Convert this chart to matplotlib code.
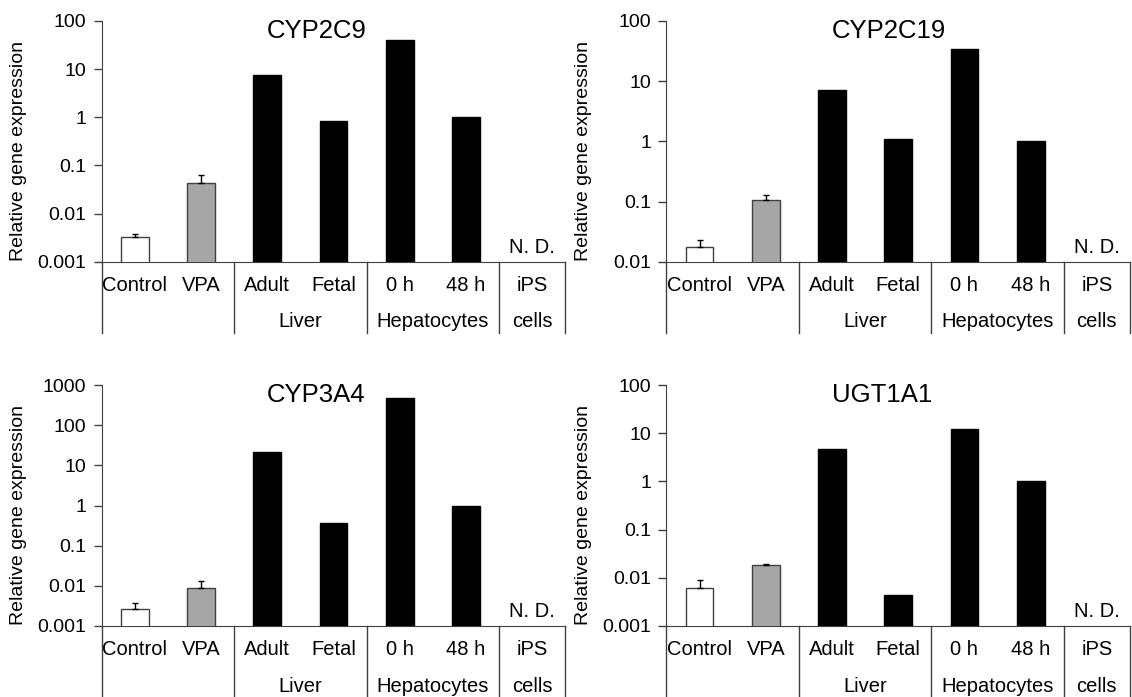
import matplotlib
matplotlib.use('Agg')
import matplotlib.pyplot as plt
import numpy as np

plt.rcParams['font.family'] = ['Liberation Sans', 'DejaVu Sans']

# категории по оси X
samples = ['Control', 'VPA', 'Adult', 'Fetal', '0 h', '48 h', 'iPS']
groups = ['', 'Liver', 'Hepatocytes', 'cells']
group_spans = [(0, 2), (2, 4), (4, 6), (6, 7)]

genes = ['CYP2C9', 'CYP2C19', 'CYP3A4', 'UGT1A1']

# значения (iPS = N. D.)
cyp2c9 = [0.0033, 0.043, 7.5, 0.84, 40, 1.0]
cyp2c19 = [0.0178, 0.104, 7.0, 1.09, 34.6, 1.0]
cyp3a4 = [0.0026, 0.0086, 21.5, 0.37, 490, 1.0]
ugt1a1 = [0.006, 0.0183, 4.7, 0.0044, 12.4, 1.0]

# верх планки погрешности для Control и VPA
cyp2c9_err = [0.0038, 0.062]
cyp2c19_err = [0.023, 0.129]
cyp3a4_err = [0.0037, 0.0133]
ugt1a1_err = [0.0091, 0.0192]

ylims = [(0.001, 100), (0.01, 100), (0.001, 1000), (0.001, 100)]

values = [cyp2c9, cyp2c19, cyp3a4, ugt1a1]
errs = [cyp2c9_err, cyp2c19_err, cyp3a4_err, ugt1a1_err]

colors = ['white', '#a6a6a6', 'black', 'black', 'black', 'black']
edges = ['#404040', '#404040', 'black', 'black', 'black', 'black']
line_col = '#404040'

fig = plt.figure(figsize=(11.32, 6.97), dpi=100)

# позиции осей (left, bottom) в долях рисунка
positions = [(0.0898, 0.6245), (0.5887, 0.6245), (0.0898, 0.1019), (0.5887, 0.1019)]
w, h = 0.4095, 0.3455

for i in range(4):
    ax = fig.add_axes([positions[i][0], positions[i][1], w, h])
    x = np.arange(6) + 0.5
    vals = values[i]
    ax.bar(x, vals, width=0.42, color=colors, edgecolor=edges, linewidth=1, zorder=3)
    up = [errs[i][0] - vals[0], errs[i][1] - vals[1]]
    ax.errorbar(x[:2], vals[:2], yerr=[[0, 0], up], fmt='none', ecolor='black',
                elinewidth=1, capsize=2.5, capthick=1, zorder=4)

    ax.set_yscale('log')
    ax.set_ylim(ylims[i])
    ax.set_xlim(0, 7)
    lo, hi = ylims[i]
    ticks = [10.0 ** k for k in range(int(round(np.log10(lo))), int(round(np.log10(hi))) + 1)]
    ax.set_yticks(ticks)
    ax.set_yticklabels(['%g' % t for t in ticks])
    ax.yaxis.set_minor_locator(matplotlib.ticker.NullLocator())
    ax.set_xticks([])
    ax.tick_params(axis='y', direction='out', length=6, width=1, color=line_col,
                   labelsize=14, pad=5)

    for s in ['top', 'right']:
        ax.spines[s].set_visible(False)
    ax.spines['left'].set_color(line_col)
    ax.spines['bottom'].set_color(line_col)

    ax.set_ylabel('Relative gene expression', fontsize=14)
    ax.yaxis.set_label_coords(-0.16, 0.46)

    ax.text(0.357, 0.96, genes[i], transform=ax.transAxes, fontsize=18.5,
            ha='left', va='center')

    # N. D. для iPS
    ax.text(6.5, 0.06, 'N. D.', transform=ax.get_xaxis_transform(), fontsize=14.5,
            ha='center', va='center')

    # таблица подписей под осью
    tr = ax.get_xaxis_transform()
    for j, name in enumerate(samples):
        ax.text(j + 0.5, -0.097, name, transform=tr, fontsize=14.5,
                ha='center', va='center')
    for g, (a, b) in zip(groups, group_spans):
        ax.text((a + b) / 2, -0.25, g, transform=tr, fontsize=14.5,
                ha='center', va='center')
    for sx in [0, 2, 4, 6, 7]:
        ax.plot([sx, sx], [0, -0.295], transform=tr, color=line_col, lw=1,
                clip_on=False)

plt.savefig('out.png', dpi=100)
